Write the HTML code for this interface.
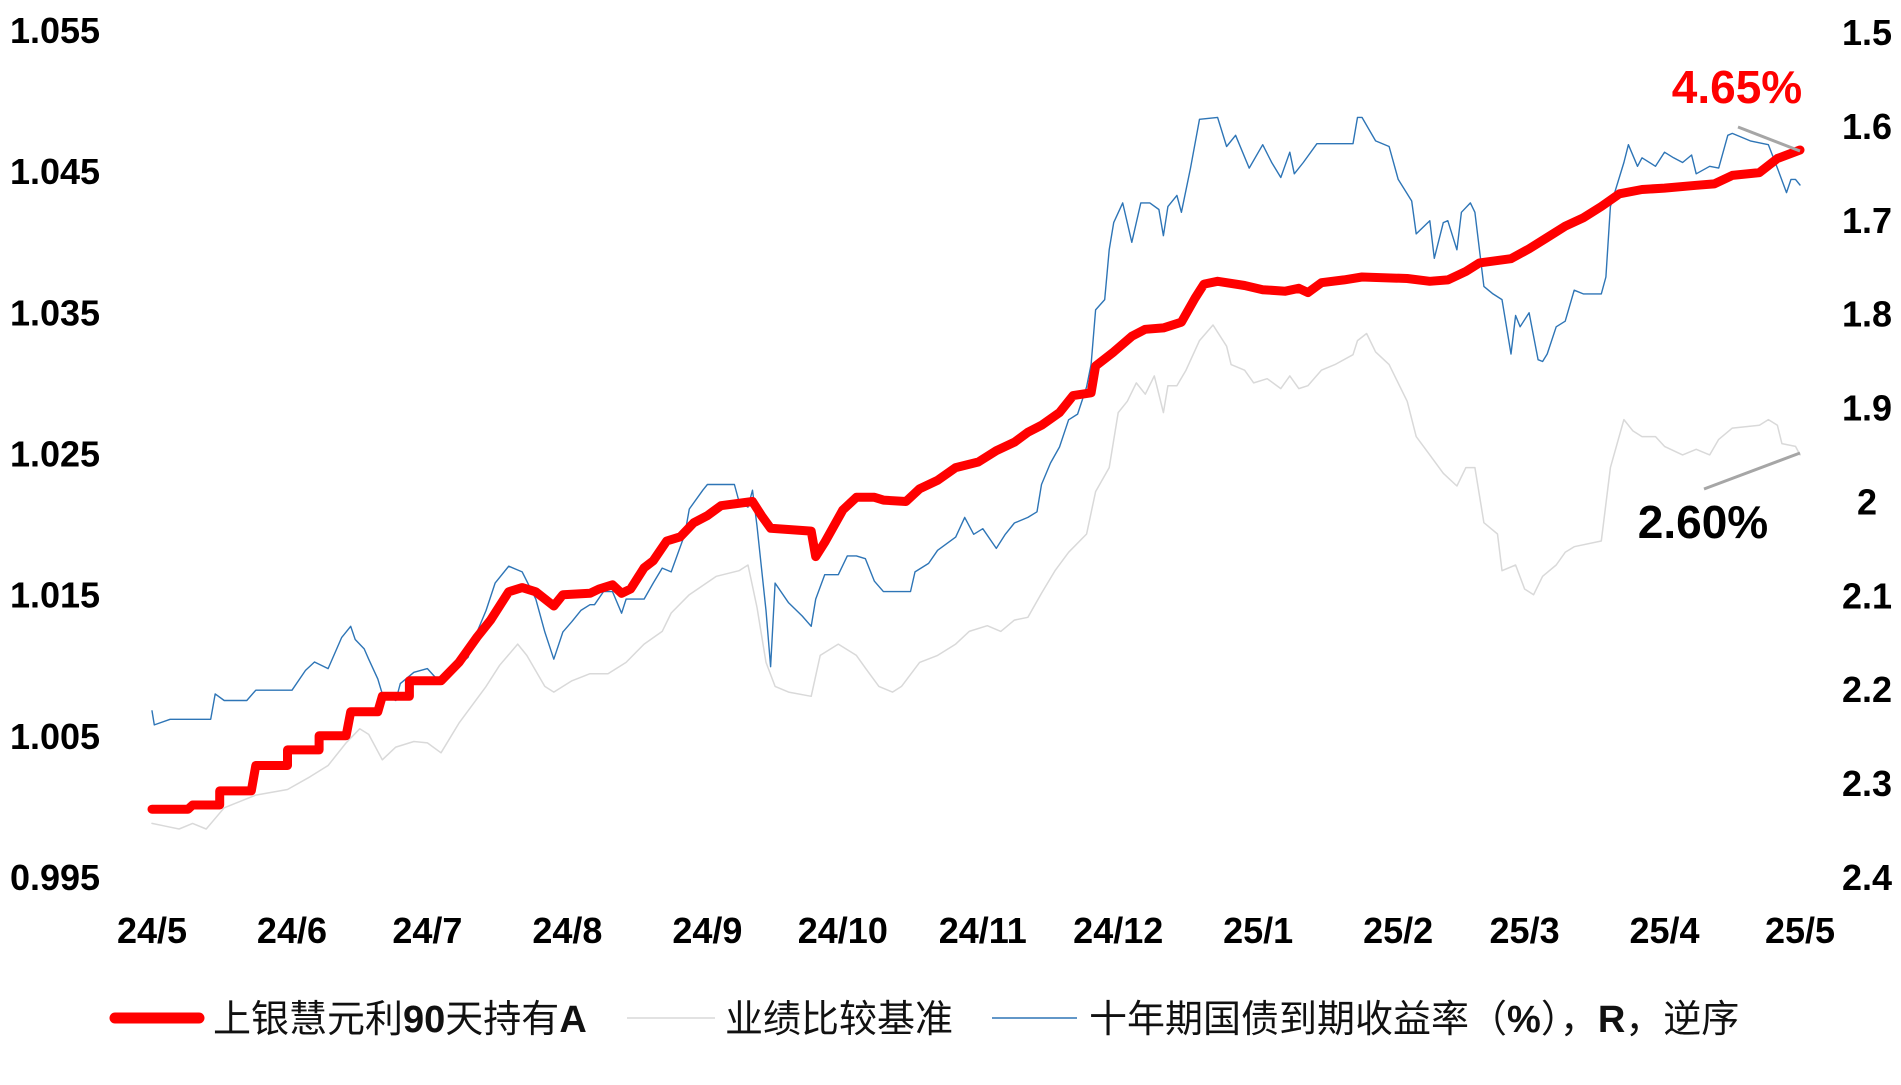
<!DOCTYPE html>
<html><head><meta charset="utf-8"><style>
html,body{margin:0;padding:0;background:#fff;}
svg{display:block;font-family:"Liberation Sans","Noto Sans CJK SC",sans-serif;}
.tick{font-weight:bold;font-size:36px;fill:#000;}
.leg{font-size:38px;fill:#111;font-family:"Liberation Sans","Noto Sans CJK SC",sans-serif;}
</style></head><body>
<svg id="chart" width="1901" height="1085" viewBox="0 0 1901 1085" xmlns="http://www.w3.org/2000/svg">
<g id="axes"></g>
<g id="series"></g>
<g>
<line x1="1738" y1="127" x2="1800" y2="151" stroke="#a6a6a6" stroke-width="3"/>
<text x="1737" y="103" text-anchor="middle" font-size="46" font-weight="bold" fill="#ff0000">4.65%</text>
<line x1="1704" y1="489" x2="1800" y2="453" stroke="#a6a6a6" stroke-width="3"/>
<text x="1703" y="538" text-anchor="middle" font-size="46" font-weight="bold" fill="#000">2.60%</text>
</g>
<g>
<g>
<line x1="115" y1="1018" x2="199" y2="1018" stroke="#ff0000" stroke-width="11" stroke-linecap="round"/>
<text class="leg" x="213" y="1032">上银慧元利<tspan font-weight="bold">90</tspan>天持有<tspan font-weight="bold">A</tspan></text>
</g>
<g>
<line x1="627" y1="1018" x2="715" y2="1018" stroke="#d9d9d9" stroke-width="1.5"/>
<text class="leg" x="725" y="1032">业绩比较基准</text>
</g>
<g>
<line x1="992" y1="1018" x2="1077" y2="1018" stroke="#2e75b6" stroke-width="1.5"/>
<text class="leg" x="1089" y="1032">十年期国债到期收益率（<tspan font-weight="bold">%</tspan>），<tspan font-weight="bold">R</tspan>，逆序</text>
</g>
</g>
</svg>
<script>
const xLabels=["24/5","24/6","24/7","24/8","24/9","24/10","24/11","24/12","25/1","25/2","25/3","25/4","25/5"];
const xLabelDays=[0,31,61,92,123,153,184,214,245,276,304,335,365];
const leftTicks=[0.995,1.005,1.015,1.025,1.035,1.045,1.055];
const leftTickLabels=["0.995","1.005","1.015","1.025","1.035","1.045","1.055"];
const rightTicks=[1.5,1.6,1.7,1.8,1.9,2.0,2.1,2.2,2.3,2.4];
const rightTickLabels=["1.5","1.6","1.7","1.8","1.9","2","2.1","2.2","2.3","2.4"];
const fundDays=[0,8,9,15,15,22,23,30,30,37,37,43,44,50,51,57,57,64,68,72,75,79,82,85,89,91,97,99,102,104,106,109,111,114,117,120,123,126,133,135,137,146,147,149,153,156,160,162,167,170,174,178,183,187,191,194,197,201,204,208,209,213,217,220,224,228,231,233,236,242,246,251,254,256,259,264,268,278,283,287,291,294,301,305,309,313,317,321,325,330,335,342,346,350,356,360,365];
const fundValues=[0.9998,0.9998,1.0001,1.0001,1.0011,1.0011,1.0029,1.0029,1.0040,1.0040,1.0050,1.0050,1.0067,1.0067,1.0078,1.0078,1.0089,1.0089,1.0102,1.0120,1.0132,1.0152,1.0155,1.0152,1.0142,1.0150,1.0151,1.0154,1.0157,1.0151,1.0154,1.0169,1.0174,1.0188,1.0191,1.0201,1.0206,1.0213,1.0216,1.0206,1.0197,1.0195,1.0177,1.0187,1.0210,1.0219,1.0219,1.0217,1.0216,1.0225,1.0231,1.0240,1.0244,1.0252,1.0258,1.0265,1.0270,1.0279,1.0291,1.0293,1.0312,1.0322,1.0333,1.0338,1.0339,1.0343,1.0360,1.0370,1.0372,1.0369,1.0366,1.0365,1.0367,1.0364,1.0371,1.0373,1.0375,1.0374,1.0372,1.0373,1.0379,1.0385,1.0388,1.0395,1.0403,1.0411,1.0417,1.0425,1.0434,1.0437,1.0438,1.0440,1.0441,1.0447,1.0449,1.0459,1.0465];
const benchDays=[0,3,6,9,12,16,23,30,35,39,43,46,48,51,54,58,61,64,68,74,77,81,83,87,89,93,97,101,105,109,113,115,119,125,130,132,134,136,138,141,146,148,152,156,158,161,164,166,170,174,178,181,185,188,191,194,197,200,203,207,209,212,214,216,218,220,222,224,225,227,229,232,235,238,239,242,244,247,250,252,254,256,259,262,266,267,269,271,274,278,280,283,286,289,291,293,295,298,299,302,304,306,308,311,313,315,321,323,326,328,330,333,335,339,342,345,347,350,356,358,360,361,364,365];
const benchValues=[0.9988,0.9986,0.9984,0.9988,0.9984,0.9999,1.0008,1.0012,1.0021,1.0029,1.0045,1.0055,1.0051,1.0033,1.0042,1.0046,1.0045,1.0038,1.0059,1.0085,1.0100,1.0115,1.0107,1.0085,1.0081,1.0089,1.0094,1.0094,1.0102,1.0115,1.0124,1.0137,1.0150,1.0163,1.0167,1.0171,1.0141,1.0102,1.0085,1.0081,1.0078,1.0107,1.0115,1.0107,1.0098,1.0085,1.0081,1.0085,1.0102,1.0107,1.0115,1.0124,1.0128,1.0124,1.0132,1.0134,1.0151,1.0167,1.0180,1.0193,1.0223,1.0240,1.0279,1.0287,1.0300,1.0292,1.0305,1.0279,1.0298,1.0298,1.0309,1.0330,1.0341,1.0326,1.0313,1.0309,1.0300,1.0303,1.0296,1.0305,1.0296,1.0298,1.0309,1.0313,1.0320,1.0330,1.0335,1.0322,1.0313,1.0287,1.0262,1.0249,1.0236,1.0227,1.0240,1.0240,1.0201,1.0193,1.0167,1.0171,1.0154,1.0150,1.0163,1.0171,1.0180,1.0184,1.0188,1.0240,1.0274,1.0266,1.0262,1.0262,1.0255,1.0249,1.0253,1.0249,1.0260,1.0268,1.0270,1.0274,1.0270,1.0257,1.0255,1.0249];
const yieldDays=[0,0.5,4,13,14,16,21,23,31,34,36,39,42,44,45,47,48,50,51,54,55,58,61,64,66,70,72,74,76,79,81,82,85,87,89,91,93,95,97,98,100,102,104,105,109,111,113,115,118,119,122,123,129,130,132,133,134,136,137,138,141,144,146,147,149,152,154,156,158,160,162,168,169,172,174,178,180,182,184,187,189,191,194,196,197,199,201,203,205,207,208,209,211,212,213,215,217,219,221,223,224,225,227,228,230,232,236,238,240,243,246,248,250,252,253,255,258,266,267,268,271,274,276,279,280,283,284,286,287,289,290,292,293,295,297,299,301,302,303,305,307,308,309,311,313,315,317,321,322,323,326,327,329,330,333,335,337,339,341,342,345,347,349,350,354,358,360,362,363,364,365];
const yieldValues=[2.223,2.238,2.232,2.232,2.205,2.212,2.212,2.201,2.201,2.180,2.171,2.178,2.145,2.133,2.147,2.157,2.168,2.189,2.205,2.212,2.194,2.182,2.178,2.194,2.182,2.166,2.139,2.116,2.087,2.069,2.073,2.075,2.104,2.139,2.168,2.139,2.128,2.116,2.110,2.110,2.096,2.096,2.119,2.104,2.104,2.087,2.071,2.075,2.035,2.008,1.988,1.982,1.982,2.000,2.006,1.988,2.026,2.116,2.176,2.087,2.108,2.122,2.133,2.104,2.078,2.078,2.058,2.058,2.061,2.085,2.096,2.096,2.075,2.066,2.052,2.038,2.017,2.035,2.029,2.050,2.035,2.023,2.017,2.011,1.982,1.959,1.942,1.913,1.907,1.878,1.854,1.796,1.785,1.732,1.703,1.682,1.724,1.682,1.682,1.689,1.717,1.686,1.674,1.692,1.645,1.593,1.591,1.622,1.610,1.645,1.620,1.639,1.655,1.628,1.651,1.639,1.619,1.619,1.591,1.591,1.616,1.622,1.657,1.680,1.715,1.701,1.741,1.703,1.701,1.732,1.692,1.682,1.692,1.771,1.779,1.785,1.843,1.802,1.814,1.799,1.849,1.851,1.843,1.814,1.808,1.775,1.779,1.779,1.761,1.686,1.639,1.620,1.643,1.634,1.643,1.628,1.634,1.639,1.631,1.651,1.643,1.645,1.610,1.608,1.616,1.620,1.645,1.671,1.657,1.657,1.663];

const NS="http://www.w3.org/2000/svg";
function xScale(d){return 152+d/365*1648;}
function yLeft(v){return 877-(v-0.995)/0.06*847;}
function yRight(v){return 32+(v-1.5)/0.9*845;}
const axes=document.getElementById('axes');
const series=document.getElementById('series');
function txt(parent,x,y,s,anchor){const t=document.createElementNS(NS,'text');t.setAttribute('x',x);t.setAttribute('y',y);t.setAttribute('text-anchor',anchor);t.setAttribute('class','tick');t.textContent=s;parent.appendChild(t);return t;}
leftTicks.forEach((v,i)=>{const t=txt(axes,55,yLeft(v)+13,leftTickLabels[i],'middle');

});
rightTicks.forEach((v,i)=>{const t=txt(axes,1867,yRight(v)+13,rightTickLabels[i],'middle');

});
xLabelDays.forEach((d,i)=>{const t=txt(axes,xScale(d),943,xLabels[i],'middle');

});
function line(days,vals,ys,color,w,name){
 const p=document.createElementNS(NS,'polyline');
 p.setAttribute('points',days.map((d,i)=>xScale(d).toFixed(1)+','+ys(vals[i]).toFixed(1)).join(' '));
 p.setAttribute('fill','none');p.setAttribute('stroke',color);p.setAttribute('stroke-width',w);
 p.setAttribute('stroke-linejoin','round');p.setAttribute('stroke-linecap','round');
 
 
 series.appendChild(p);}
line(benchDays,benchValues,yLeft,'#d9d9d9',1.5,'benchmark-line');
line(yieldDays,yieldValues,yRight,'#2e75b6',1.4,'bond-yield-line');
line(fundDays,fundValues,yLeft,'#ff0000',9,'fund-nav-line');
</script>
</body></html>
